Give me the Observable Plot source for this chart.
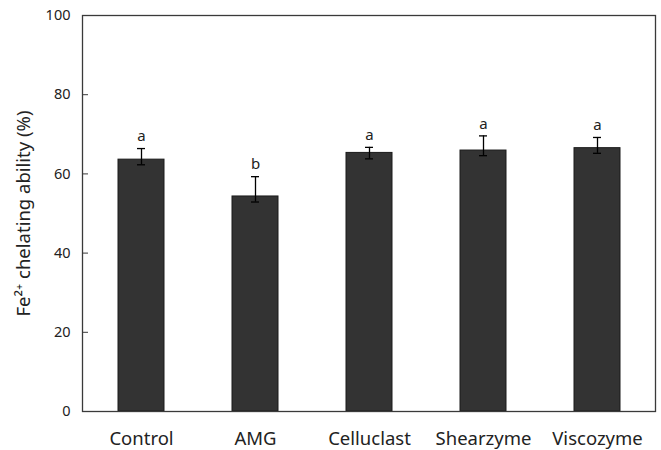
<!DOCTYPE html>
<html>
<head>
<meta charset="utf-8">
<script src="https://cdn.jsdelivr.net/npm/d3@7"></script>
<script src="https://cdn.jsdelivr.net/npm/@observablehq/plot@0.6"></script>
<style>
  html, body { margin: 0; padding: 0; background: #ffffff; }
  #chart { width: 661px; height: 450px; }
</style>
</head>
<body>
<div id="chart"></div>
<script>
const categories = ["Control", "AMG", "Celluclast", "Shearzyme", "Viscozyme"];
const means = [63.6, 54.3, 65.3, 65.9, 66.5];
const errUp = [2.8, 5.0, 1.4, 3.7, 2.7];
const errDown = [1.3, 1.4, 1.5, 1.3, 1.3];
const letters = ["a", "b", "a", "a", "a"];
const yTicks = [0, 20, 40, 60, 80, 100];
const yLabel = "Fe\u00B2\u207A chelating ability (%)";

const data = categories.map((c, i) => ({
  cat: c,
  mean: means[i],
  hi: means[i] + errUp[i],
  lo: means[i] - errDown[i],
  letter: letters[i]
}));

const chart = Plot.plot({
  width: 661,
  height: 450,
  marginLeft: 82,
  marginRight: 6,
  marginTop: 15,
  marginBottom: 39,
  style: { fontFamily: "'Noto Sans', sans-serif", fontSize: "14.5px", color: "#222", background: "#ffffff" },
  x: { domain: categories, paddingInner: 0.6, paddingOuter: 0.3 },
  y: { domain: [0, 100] },
  marks: [
    Plot.barY(data, { x: "cat", y: "mean", fill: "#333333", stroke: "#1a1a1a", strokeWidth: 1 }),
    Plot.ruleX(data, { x: "cat", y1: "lo", y2: "hi", stroke: "#000", strokeWidth: 1.3 }),
    Plot.tickY(data, { x: "cat", y: "hi", stroke: "#000", strokeWidth: 1.3, insetLeft: 19, insetRight: 19 }),
    Plot.tickY(data, { x: "cat", y: "lo", stroke: "#000", strokeWidth: 1.3, insetLeft: 19, insetRight: 19 }),
    Plot.text(data, { x: "cat", y: "hi", text: "letter", dy: -12, lineAnchor: "middle", fontSize: 15, fill: "#222" }),
    Plot.frame({ stroke: "#3a3a3a", strokeWidth: 1.3 }),
    Plot.axisY({ ticks: yTicks, tickSize: -6, tickPadding: 18, stroke: "#3a3a3a", label: null }),
    Plot.text([yLabel], { text: (d) => d, frameAnchor: "left", textAnchor: "middle", rotate: -90, dx: -66, lineAnchor: "top", fontSize: 18.5, fill: "#222" }),
    Plot.axisX({ tickSize: 0, tickPadding: 20, fontSize: 18.5, label: null })
  ]
});
document.getElementById("chart").appendChild(chart);
</script>
</body>
</html>
